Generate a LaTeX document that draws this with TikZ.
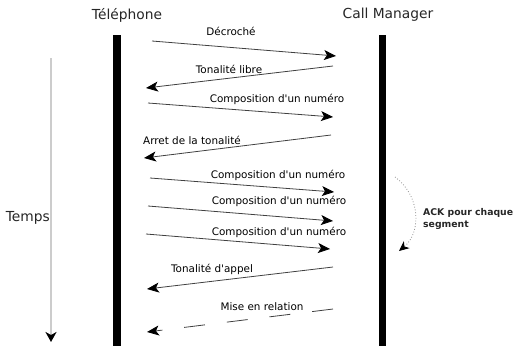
\documentclass[tikz,border=0pt]{standalone}
\usepackage{fontspec}
\setmainfont{DejaVu Sans}
\usepackage{tikz}
\usetikzlibrary{arrows.meta}

\begin{document}
\begin{tikzpicture}[x={(1pt,0pt)}, y={(0pt,-1pt)},
    msg/.style={draw=black!75, line width=0.8pt, -{Stealth[length=12pt, width=10pt, inset=3pt, color=black]}},
    lbl/.style={inner sep=0pt, font=\fontsize{10.4}{12}\selectfont},
    head/.style={inner sep=0pt, font=\fontsize{13.8}{16}\selectfont, text=black!85}]
        \useasboundingbox (0,0) rectangle (516,346);
        % lifelines
        \node[head] (tel) at (127,15) {Téléphone};
        \node[head] (cm) at (388,15) {Call Manager};
        \fill (113,35) rectangle (121,346);
        \fill (379,35) rectangle (386,346);
        % time axis
        \coordinate (t0) at (51,58);
        \coordinate (t1) at (51,342);
        \draw[black!20, line width=2.5pt, -{Stealth[length=10pt, width=11pt, inset=3pt, color=black]}] (t0) -- (t1);
        \node[head, anchor=east] (temps) at (50,218) {Temps};
        % messages
        \coordinate (a1) at (152,41); \coordinate (b1) at (336,56);
        \draw[msg] (a1) -- (b1);
        \node[lbl] (l1) at (231,31) {Décroché};
        \coordinate (a2) at (333,66); \coordinate (b2) at (146,88);
        \draw[msg] (a2) -- (b2);
        \node[lbl] (l2) at (229,69) {Tonalité libre};
        \coordinate (a3) at (148,103); \coordinate (b3) at (333,117);
        \draw[msg] (a3) -- (b3);
        \node[lbl] (l3) at (277,99) {Composition d\textquotesingle un numéro};
        \coordinate (a4) at (331,135); \coordinate (b4) at (144,158);
        \draw[msg] (a4) -- (b4);
        \node[lbl] (l4) at (192,140) {Arret de la tonalité};
        \coordinate (a5) at (150,178); \coordinate (b5) at (334,192);
        \draw[msg] (a5) -- (b5);
        \node[lbl] (l5) at (278,175) {Composition d\textquotesingle un numéro};
        \coordinate (a6) at (148,206); \coordinate (b6) at (333,221);
        \draw[msg] (a6) -- (b6);
        \node[lbl] (l6) at (279,201) {Composition d\textquotesingle un numéro};
        \coordinate (a7) at (146,234); \coordinate (b7) at (330,249);
        \draw[msg] (a7) -- (b7);
        \node[lbl] (l7) at (279,232) {Composition d\textquotesingle un numéro};
        \coordinate (a8) at (333,267); \coordinate (b8) at (147,289);
        \draw[msg] (a8) -- (b8);
        \node[lbl] (l8) at (212,269) {Tonalité d\textquotesingle appel};
        \coordinate (a9) at (333,309); \coordinate (b9) at (147,332);
        \draw[msg, dash pattern=on 21pt off 22pt] (a9) -- (b9);
        \node[lbl] (l9) at (262,307) {Mise en relation};
        % acknowledgement
        \coordinate (k0) at (395,177);
        \coordinate (k1) at (399,251);
        \draw[black!45, dotted, line width=0.8pt, -{Stealth[length=10pt, width=9pt, inset=3pt, color=black]}]
            (k0) .. controls (420,195) and (422,232) .. (k1);
        \node[inner sep=0pt, anchor=west, align=left, font=\fontsize{9.3}{12}\selectfont\bfseries, text=black!85] (ack) at (423,219) {ACK pour chaque\\segment};
    \end{tikzpicture}
\end{document}
